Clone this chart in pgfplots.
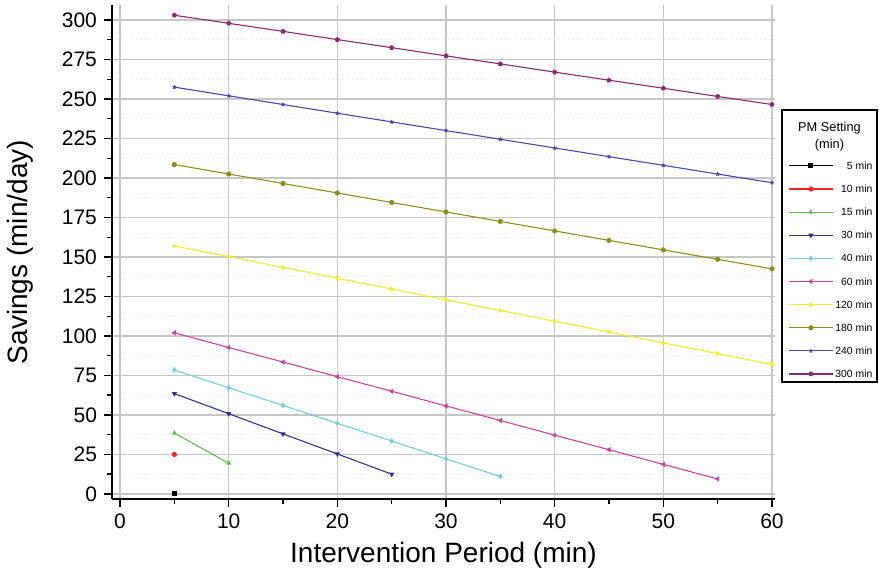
\documentclass[border=0pt]{standalone}
\usepackage{fontspec}
\setmainfont{Liberation Sans}
\usepackage{pgfplots}
\pgfplotsset{compat=1.18}
\definecolor{cA}{HTML}{000000}
\definecolor{cB}{HTML}{FF2020}
\definecolor{cC}{HTML}{66BB55}
\definecolor{cD}{HTML}{33338F}
\definecolor{cE}{HTML}{77CCDD}
\definecolor{cF}{HTML}{CC4499}
\definecolor{cG}{HTML}{EEEE30}
\definecolor{cH}{HTML}{8E8E1E}
\definecolor{cI}{HTML}{4A4AA8}
\definecolor{cJ}{HTML}{8E2A6E}
\begin{document}
\begin{tikzpicture}
\path[use as bounding box] (0,0) rectangle (439.5pt,288pt);
\begin{axis}[
  at={(56pt,38.5pt)}, anchor=south west,
  scale only axis, width=331.5pt, height=247pt,
  xmin=-0.74, xmax=60.28, ymin=-3.2, ymax=309.5,
  axis x line*=bottom, axis y line*=left,
  axis line style={line width=0.9pt, black},
  xtick={0,10,...,60}, ytick={0,25,...,300},
  minor x tick num=1, minor y tick num=1,
  tick align=outside,
  major tick length=4pt, minor tick length=2.5pt,
  tick style={black, line width=0.7pt},
  xmajorgrids, ymajorgrids, yminorgrids,
  major grid style={gray!45, line width=0.6pt},
  minor grid style={gray!25, dotted, line width=0.5pt},
  /pgf/number format/assume math mode=true,
  ticklabel style={font=\fontsize{10.5}{12}\selectfont},
  label style={font=\fontsize{14}{16}\selectfont},
  xlabel={Intervention Period (min)},
  ylabel={Savings (min/day)},
  xlabel style={at={(axis description cs:0.5,-0.1134)}, anchor=center},
  ylabel style={at={(axis description cs:-0.1388,0.5)}, anchor=center},
  clip=false,
  every axis plot/.append style={line width=0.55pt, mark size=1pt},
  legend cell align=right,
  legend image code/.code={\draw[mark repeat=2,mark phase=2] plot coordinates {(0pt,0pt) (11pt,0pt) (22pt,0pt)};},
  legend style={draw=none, fill=none, at={(axis description cs:1.1566,0.6943)}, anchor=north east,
    font=\fontsize{5.2}{6}\selectfont, row sep=6.06pt, column sep=1pt,
    nodes={inner sep=0pt, text height=4.5pt, text depth=1pt}},
]
\addplot[cA, mark=square*] coordinates {(5,0)};
\addlegendentry{5 min}
\addplot[cB, mark=*] coordinates {(5,25)};
\addlegendentry{10 min}
\addplot[cC, mark=triangle*] coordinates {(5,38.5) (10,19.5)};
\addlegendentry{15 min}
\addplot[cD, mark=triangle*, mark options={rotate=180}] coordinates {(5,63.5) (10,50.8) (15,38) (20,25.3) (25,12.5)};
\addlegendentry{30 min}
\addplot[cE, mark=diamond*] coordinates {(5,78.5) (10,67.2) (15,56) (20,44.7) (25,33.5) (30,22.2) (35,11)};
\addlegendentry{40 min}
\addplot[cF, mark=triangle*, mark options={rotate=90}] coordinates {(5,102) (10,92.7) (15,83.5) (20,74.2) (25,65) (30,55.7) (35,46.5) (40,37.2) (45,28) (50,18.7) (55,9.5)};
\addlegendentry{60 min}
\addplot[cG, mark=triangle*, mark options={rotate=-90}] coordinates {(5,157) (10,150.2) (15,143.4) (20,136.5) (25,129.7) (30,122.9) (35,116.1) (40,109.3) (45,102.5) (50,95.6) (55,88.8) (60,82)};
\addlegendentry{120 min}
\addplot[cH, mark=*] coordinates {(5,208.5) (10,202.5) (15,196.5) (20,190.5) (25,184.5) (30,178.5) (35,172.5) (40,166.5) (45,160.5) (50,154.5) (55,148.5) (60,142.5)};
\addlegendentry{180 min}
\addplot[cI, mark=star] coordinates {(5,257.5) (10,252) (15,246.5) (20,241) (25,235.5) (30,230) (35,224.5) (40,219) (45,213.5) (50,208) (55,202.5) (60,197)};
\addlegendentry{240 min}
\addplot[cJ, mark=pentagon*] coordinates {(5,303) (10,297.9) (15,292.8) (20,287.6) (25,282.5) (30,277.3) (35,272.2) (40,267) (45,261.9) (50,256.8) (55,251.6) (60,246.5)};
\addlegendentry{300 min}
\draw[black, line width=0.6pt] (axis description cs:1.0106,0.7874) rectangle (axis description cs:1.1538,0.2368);
\node[align=center, font=\fontsize{6.4}{8.5}\selectfont, anchor=center] at (axis description cs:1.0822,0.7338) {PM Setting\\(min)};
\end{axis}
\end{tikzpicture}
\end{document}
